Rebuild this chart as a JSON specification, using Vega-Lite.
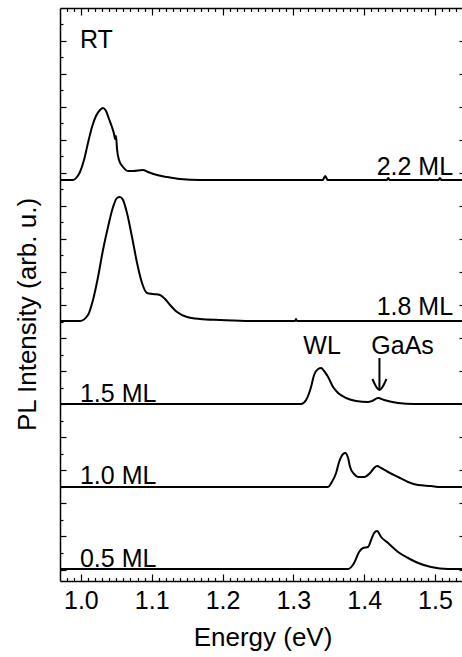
{
  "$schema": "https://vega.github.io/schema/vega-lite/v6.json",
  "width": 405,
  "height": 573,
  "autosize": {"type": "none"},
  "padding": {"left": 60, "top": 8, "right": 0, "bottom": 76},
  "background": "white",
  "config": {
    "view": {"stroke": null},
    "font": "Liberation Sans",
    "axis": {"grid": false, "domainColor": "black", "domainWidth": 1.5, "tickColor": "black", "tickWidth": 1.2, "labelColor": "black", "titleColor": "black", "titleFontWeight": "normal", "labelFont": "Liberation Sans", "titleFont": "Liberation Sans"}
  },
  "datasets": {
    "curves": [
      {"s": "a", "e": 0.9705, "v": 397}, {"s": "a", "e": 0.9889, "v": 397}, {"s": "a", "e": 0.9945, "v": 400}, {"s": "a", "e": 0.9987, "v": 405}, {"s": "a", "e": 1.0044, "v": 417}, {"s": "a", "e": 1.01, "v": 434}, {"s": "a", "e": 1.0157, "v": 450}, {"s": "a", "e": 1.0213, "v": 461}, {"s": "a", "e": 1.027, "v": 467}, {"s": "a", "e": 1.0312, "v": 469}, {"s": "a", "e": 1.0355, "v": 466}, {"s": "a", "e": 1.0397, "v": 458}, {"s": "a", "e": 1.0439, "v": 450}, {"s": "a", "e": 1.0468, "v": 443}, {"s": "a", "e": 1.0482, "v": 438}, {"s": "a", "e": 1.0496, "v": 441}, {"s": "a", "e": 1.051, "v": 428}, {"s": "a", "e": 1.0538, "v": 417}, {"s": "a", "e": 1.0595, "v": 410}, {"s": "a", "e": 1.0665, "v": 406}, {"s": "a", "e": 1.0736, "v": 406}, {"s": "a", "e": 1.0877, "v": 407}, {"s": "a", "e": 1.0947, "v": 405}, {"s": "a", "e": 1.1075, "v": 402}, {"s": "a", "e": 1.1216, "v": 400}, {"s": "a", "e": 1.1399, "v": 398}, {"s": "a", "e": 1.1682, "v": 397}, {"s": "a", "e": 1.338, "v": 397}, {"s": "a", "e": 1.3415, "v": 397}, {"s": "a", "e": 1.345, "v": 401}, {"s": "a", "e": 1.3485, "v": 397}, {"s": "a", "e": 1.432, "v": 397}, {"s": "a", "e": 1.434, "v": 399}, {"s": "a", "e": 1.436, "v": 397}, {"s": "a", "e": 1.505, "v": 397}, {"s": "a", "e": 1.507, "v": 399}, {"s": "a", "e": 1.509, "v": 397}, {"s": "a", "e": 1.5424, "v": 397},
      {"s": "b", "e": 0.9705, "v": 256}, {"s": "b", "e": 0.9987, "v": 256}, {"s": "b", "e": 1.01, "v": 262}, {"s": "b", "e": 1.0171, "v": 277}, {"s": "b", "e": 1.0242, "v": 300}, {"s": "b", "e": 1.0312, "v": 327}, {"s": "b", "e": 1.0383, "v": 350}, {"s": "b", "e": 1.0454, "v": 370}, {"s": "b", "e": 1.051, "v": 379}, {"s": "b", "e": 1.0552, "v": 380}, {"s": "b", "e": 1.0595, "v": 377}, {"s": "b", "e": 1.0651, "v": 364}, {"s": "b", "e": 1.0722, "v": 340}, {"s": "b", "e": 1.0793, "v": 314}, {"s": "b", "e": 1.0863, "v": 294}, {"s": "b", "e": 1.0934, "v": 284}, {"s": "b", "e": 1.1018, "v": 283}, {"s": "b", "e": 1.1117, "v": 282}, {"s": "b", "e": 1.1188, "v": 278}, {"s": "b", "e": 1.1259, "v": 272}, {"s": "b", "e": 1.1358, "v": 265}, {"s": "b", "e": 1.1499, "v": 260}, {"s": "b", "e": 1.1682, "v": 258}, {"s": "b", "e": 1.1965, "v": 257}, {"s": "b", "e": 1.2389, "v": 256}, {"s": "b", "e": 1.3024, "v": 256}, {"s": "b", "e": 1.3038, "v": 258}, {"s": "b", "e": 1.3052, "v": 256}, {"s": "b", "e": 1.5424, "v": 256},
      {"s": "c", "e": 0.9705, "v": 173}, {"s": "c", "e": 1.3109, "v": 173}, {"s": "c", "e": 1.318, "v": 177}, {"s": "c", "e": 1.325, "v": 190}, {"s": "c", "e": 1.3293, "v": 202}, {"s": "c", "e": 1.335, "v": 208}, {"s": "c", "e": 1.3392, "v": 209}, {"s": "c", "e": 1.3434, "v": 206}, {"s": "c", "e": 1.3491, "v": 200}, {"s": "c", "e": 1.3561, "v": 190}, {"s": "c", "e": 1.3632, "v": 184}, {"s": "c", "e": 1.3745, "v": 179}, {"s": "c", "e": 1.3886, "v": 176}, {"s": "c", "e": 1.4055, "v": 175}, {"s": "c", "e": 1.4112, "v": 176}, {"s": "c", "e": 1.4197, "v": 179}, {"s": "c", "e": 1.4281, "v": 177}, {"s": "c", "e": 1.4479, "v": 174}, {"s": "c", "e": 1.4705, "v": 173}, {"s": "c", "e": 1.5424, "v": 173},
      {"s": "d", "e": 0.9705, "v": 90}, {"s": "d", "e": 1.349, "v": 90}, {"s": "d", "e": 1.3535, "v": 94}, {"s": "d", "e": 1.3604, "v": 104}, {"s": "d", "e": 1.3646, "v": 115}, {"s": "d", "e": 1.3703, "v": 123}, {"s": "d", "e": 1.3731, "v": 124}, {"s": "d", "e": 1.3773, "v": 119}, {"s": "d", "e": 1.3801, "v": 110}, {"s": "d", "e": 1.3858, "v": 103}, {"s": "d", "e": 1.3914, "v": 100}, {"s": "d", "e": 1.3999, "v": 100}, {"s": "d", "e": 1.4084, "v": 104}, {"s": "d", "e": 1.4141, "v": 109}, {"s": "d", "e": 1.4183, "v": 111}, {"s": "d", "e": 1.424, "v": 109}, {"s": "d", "e": 1.4338, "v": 105}, {"s": "d", "e": 1.4479, "v": 100}, {"s": "d", "e": 1.462, "v": 95}, {"s": "d", "e": 1.4762, "v": 92}, {"s": "d", "e": 1.4945, "v": 91}, {"s": "d", "e": 1.507, "v": 90}, {"s": "d", "e": 1.5424, "v": 90},
      {"s": "e", "e": 0.9705, "v": 8}, {"s": "e", "e": 1.3773, "v": 8}, {"s": "e", "e": 1.3858, "v": 14}, {"s": "e", "e": 1.3928, "v": 25}, {"s": "e", "e": 1.3985, "v": 29}, {"s": "e", "e": 1.4055, "v": 30}, {"s": "e", "e": 1.4098, "v": 37}, {"s": "e", "e": 1.4141, "v": 44}, {"s": "e", "e": 1.4183, "v": 46}, {"s": "e", "e": 1.424, "v": 40}, {"s": "e", "e": 1.4338, "v": 34}, {"s": "e", "e": 1.4479, "v": 25}, {"s": "e", "e": 1.462, "v": 19}, {"s": "e", "e": 1.4762, "v": 14}, {"s": "e", "e": 1.4945, "v": 10}, {"s": "e", "e": 1.5185, "v": 8}, {"s": "e", "e": 1.5424, "v": 8},
      {"s": "shaft", "e": 1.4216, "v": 219}, {"s": "shaft", "e": 1.4216, "v": 187},
      {"s": "head", "e": 1.4117, "v": 198}, {"s": "head", "e": 1.4216, "v": 187}, {"s": "head", "e": 1.4315, "v": 198}
    ],
    "leftLabels": [
      {"t": "RT", "e": 0.9987, "v": 529},
      {"t": "1.5 ML", "e": 0.9987, "v": 175},
      {"t": "1.0 ML", "e": 0.9987, "v": 93},
      {"t": "0.5 ML", "e": 0.9987, "v": 10}
    ],
    "rightLabels": [
      {"t": "2.2 ML", "e": 1.5256, "v": 402},
      {"t": "1.8 ML", "e": 1.5256, "v": 262}
    ],
    "centerLabels": [
      {"t": "WL", "e": 1.3406, "v": 223},
      {"t": "GaAs", "e": 1.4543, "v": 223}
    ]
  },
  "layer": [
    {
      "data": {"name": "curves"},
      "mark": {"type": "line", "color": "black", "strokeWidth": 2, "interpolate": "monotone"},
      "encoding": {
        "x": {"field": "e", "type": "quantitative", "scale": {"domain": [0.9705, 1.5424], "nice": false, "zero": false},
          "axis": {"orient": "bottom", "title": "Energy (eV)", "titleFontSize": 26, "titleY": 64, "titleBaseline": "alphabetic",
            "values": [0.98,0.99,1.0,1.01,1.02,1.03,1.04,1.05,1.06,1.07,1.08,1.09,1.1,1.11,1.12,1.13,1.14,1.15,1.16,1.17,1.18,1.19,1.2,1.21,1.22,1.23,1.24,1.25,1.26,1.27,1.28,1.29,1.3,1.31,1.32,1.33,1.34,1.35,1.36,1.37,1.38,1.39,1.4,1.41,1.42,1.43,1.44,1.45,1.46,1.47,1.48,1.49,1.5,1.51,1.52,1.53,1.54],
            "labelExpr": "abs(datum.value*10 - round(datum.value*10)) < 0.001 ? format(datum.value, '.1f') : ''",
            "tickSize": {"condition": {"test": "abs(datum.value*10 - round(datum.value*10)) < 0.001", "value": -7}, "value": -3.5},
            "labelFontSize": 25, "labelPadding": 14, "labelOverlap": false, "labelFlush": false, "labelBound": false}},
        "y": {"field": "v", "type": "quantitative", "scale": {"domain": [-4, 569], "nice": false, "zero": false},
          "axis": {"orient": "left", "title": "PL Intensity (arb. u.)", "titleFontSize": 26, "titleX": -25, "titleY": 306, "titleBaseline": "alphabetic", "labels": false,
            "values": [7.5,24.03,40.56,57.09,73.62,90.15,106.68,123.21,139.74,156.27,172.8,189.33,205.86,222.39,238.92,255.45,271.98,288.51,305.04,321.57,338.1,354.63,371.16,387.69,404.22,420.75,437.28,453.81,470.34,486.87,503.4,519.93,536.46,552.99],
            "tickSize": {"condition": {"test": "round((datum.value-7.5)/16.53) % 2 == 0", "value": -6}, "value": -3}}},
        "detail": {"field": "s", "type": "nominal"}
      }
    },
    {
      "data": {"name": "leftLabels"},
      "mark": {"type": "text", "align": "left", "baseline": "alphabetic", "fontSize": 25, "color": "black", "font": "Liberation Sans"},
      "encoding": {
        "x": {"field": "e", "type": "quantitative", "scale": {"domain": [0.9705, 1.5424], "nice": false, "zero": false},
          "axis": {"orient": "top", "title": null, "labels": false,
            "values": [0.98,0.99,1.0,1.01,1.02,1.03,1.04,1.05,1.06,1.07,1.08,1.09,1.1,1.11,1.12,1.13,1.14,1.15,1.16,1.17,1.18,1.19,1.2,1.21,1.22,1.23,1.24,1.25,1.26,1.27,1.28,1.29,1.3,1.31,1.32,1.33,1.34,1.35,1.36,1.37,1.38,1.39,1.4,1.41,1.42,1.43,1.44,1.45,1.46,1.47,1.48,1.49,1.5,1.51,1.52,1.53,1.54],
            "tickSize": {"condition": {"test": "abs(datum.value*10 - round(datum.value*10)) < 0.001", "value": -7}, "value": -3.5}}},
        "y": {"field": "v", "type": "quantitative", "scale": {"domain": [-4, 569], "nice": false, "zero": false},
          "axis": {"orient": "right", "title": null, "labels": false,
            "values": [7.5,24.03,40.56,57.09,73.62,90.15,106.68,123.21,139.74,156.27,172.8,189.33,205.86,222.39,238.92,255.45,271.98,288.51,305.04,321.57,338.1,354.63,371.16,387.69,404.22,420.75,437.28,453.81,470.34,486.87,503.4,519.93,536.46,552.99],
            "tickSize": {"condition": {"test": "round((datum.value-7.5)/16.53) % 2 == 0", "value": -6}, "value": -3}}},
        "text": {"field": "t", "type": "nominal"}
      }
    },
    {
      "data": {"name": "rightLabels"},
      "mark": {"type": "text", "align": "right", "baseline": "alphabetic", "fontSize": 25, "color": "black", "font": "Liberation Sans"},
      "encoding": {
        "x": {"field": "e", "type": "quantitative", "axis": null},
        "y": {"field": "v", "type": "quantitative", "axis": null},
        "text": {"field": "t", "type": "nominal"}
      }
    },
    {
      "data": {"name": "centerLabels"},
      "mark": {"type": "text", "align": "center", "baseline": "alphabetic", "fontSize": 25, "color": "black", "font": "Liberation Sans"},
      "encoding": {
        "x": {"field": "e", "type": "quantitative", "axis": null},
        "y": {"field": "v", "type": "quantitative", "axis": null},
        "text": {"field": "t", "type": "nominal"}
      }
    }
  ],
  "resolve": {"axis": {"x": "independent", "y": "independent"}}
}
